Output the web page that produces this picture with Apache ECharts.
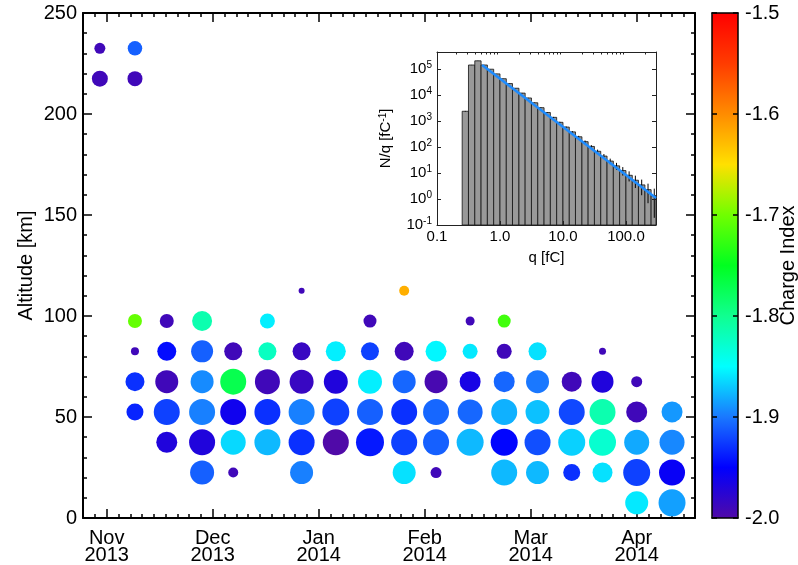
<!DOCTYPE html>
<html><head><meta charset="utf-8">
<script src="https://cdn.jsdelivr.net/npm/echarts@6/dist/echarts.min.js"></script>
<style>html,body{margin:0;padding:0;background:#fff}#c{width:798px;height:565px}</style>
</head><body><div id="c"></div>
<script>
// ---------------- data ----------------
const monthLabels = ['Nov\n2013','Dec\n2013','Jan\n2014','Feb\n2014','Mar\n2014','Apr\n2014'];
const colDates = ['2013-10-30','2013-11-09','2013-11-18','2013-11-28','2013-12-07','2013-12-17',
  '2013-12-27','2014-01-06','2014-01-16','2014-01-26','2014-02-04','2014-02-13',
  '2014-02-22','2014-03-03','2014-03-13','2014-03-22','2014-04-01','2014-04-11'];
// one entry per bubble
const bubbleCol = [0,0, 1,1,1,1,1,1, 2,2,2,2,2, 3,3,3,3,3,3, 4,4,4,4,4, 5,5,5,5,5,
  6,6,6,6,6,6, 7,7,7,7, 8,8,8,8,8, 9,9,9,9,9,9, 10,10,10,10,10, 11,11,11,11,11,
  12,12,12,12,12,12, 13,13,13,13,13, 14,14,14,14, 15,15,15,15,15, 16,16,16,16,16, 17,17,17,17];
const bubbleAlt = [232.5,217.5, 232.5,217.5,97.5,82.5,67.5,52.5, 97.5,82.5,67.5,52.5,37.5,
  97.5,82.5,67.5,52.5,37.5,22.5, 82.5,67.5,52.5,37.5,22.5, 97.5,82.5,67.5,52.5,37.5,
  112.5,82.5,67.5,52.5,37.5,22.5, 82.5,67.5,52.5,37.5, 97.5,82.5,67.5,52.5,37.5,
  112.5,82.5,67.5,52.5,37.5,22.5, 82.5,67.5,52.5,37.5,22.5, 97.5,82.5,67.5,52.5,37.5,
  97.5,82.5,67.5,52.5,37.5,22.5, 82.5,67.5,52.5,37.5,22.5, 67.5,52.5,37.5,22.5,
  82.5,67.5,52.5,37.5,22.5, 67.5,52.5,37.5,22.5,7.5, 52.5,37.5,22.5,7.5];
const bubbleIndex = [-1.99,-1.99, -1.91,-1.99,-1.705,-1.99,-1.93,-1.935, -1.99,-1.945,-1.99,-1.923,-1.97,
  -1.814,-1.91,-1.893,-1.897,-1.97,-1.91, -1.99,-1.771,-1.96,-1.864,-1.99, -1.856,-1.822,-1.99,-1.93,-1.876,
  -1.99,-1.985,-1.985,-1.897,-1.93,-1.897, -1.856,-1.97,-1.923,-2.0, -1.99,-1.923,-1.856,-1.91,-1.94,
  -1.621,-1.99,-1.907,-1.93,-1.923,-1.861, -1.853,-1.995,-1.907,-1.91,-1.99, -1.99,-1.858,-1.965,-1.907,-1.876,
  -1.721,-1.99,-1.907,-1.879,-1.948,-1.876, -1.861,-1.90,-1.873,-1.917,-1.876, -1.99,-1.92,-1.867,-1.93,
  -1.99,-1.97,-1.814,-1.829,-1.861, -1.99,-1.99,-1.882,-1.923,-1.858, -1.888,-1.894,-1.955,-1.885];
const bubbleSize = [11,16, 14.5,15,14,8,19,17, 14,19,23,26,21, 20,22,23,26,26,24, 18,26,26,25,10, 15,18,25,26,26,
  6,18,24,26,26,23, 20,24,27,26, 13,18,24,26,28, 10,19,23,26,26,23, 21,23,26,26,11, 9,15,21,25,27,
  13,15,21,26,27,26, 18,23,24,26,23, 20,26,27,17, 7,22,26,27,20, 11,21,25,27,23, 21,25,26,27];

// inset histogram
const binEdges = [0.251,0.316,0.398,0.501,0.631,0.794,1.0,1.26,1.58,2.0,2.51,3.16,3.98,5.01,6.31,7.94,
  10,12.6,15.8,20,25.1,31.6,39.8,50.1,63.1,79.4,100,126,158,200,251,316];
const binValues = [2.4e3,1.45e5,2.1e5,1.45e5,1.0e5,6.6e4,4.3e4,2.8e4,1.85e4,1.2e4,7.8e3,5.1e3,3.3e3,2.15e3,
  1.4e3,900,590,385,250,162,106,69,45,29,19,12.5,8.2,5.3,3.5,2.3,1.35];
const binRelErr = [0.03,0.01,0.01,0.01,0.01,0.01,0.01,0.01,0.01,0.02,0.02,0.02,0.03,0.03,0.04,0.05,0.06,0.07,
  0.09,0.11,0.13,0.16,0.2,0.24,0.3,0.36,0.42,0.5,0.6,0.7,0.86];
const fitStart = [0.52, 1.45e5];
const fitEnd = [300, 1.1];

// ---------------- helpers ----------------
function monthPos(s){
  const p = s.split('-').map(Number);
  const mi = (p[0]-2013)*12 + (p[1]-11);
  const dim = new Date(p[0], p[1], 0).getDate();
  return mi + (p[2]-1)/dim;
}
const colX = colDates.map(monthPos);
const bubbles = bubbleCol.map((c,i)=>[colX[c], bubbleAlt[i], bubbleIndex[i], bubbleSize[i]]);
const bars = binValues.map((v,i)=>[binEdges[i], binEdges[i+1], v, binRelErr[i]]);

const FONT = 'Liberation Sans, Arial, Helvetica, sans-serif';
const FS = 20;
const xMin = -0.2236, xMax = 5.55;
const majorX = [0,1,2,3,4,5];
const minorX = [];
for (let k=-3;k<=60;k++){ const v=k/9; if (v>xMin && v<xMax && k%9!==0) minorX.push(v); }
const insetMinor = [];
[0.1,1,10,100].forEach(d=>{ for(let m=2;m<=9;m++){ const v=m*d; if (v<300) insetMinor.push(v);} });

const black = '#000';
function mainX(pos, custom, len, showLine, showLabel){
  return {type:'value', gridIndex:0, position:pos, min:xMin, max:xMax,
    axisLine:{show:showLine, onZero:false, lineStyle:{color:black, width:2}},
    axisTick:{show:true, inside:true, length:len, customValues:custom, lineStyle:{color:black, width:1.5}},
    axisLabel:{show:showLabel, customValues:majorX, formatter:v=>monthLabels[Math.round(v)]||'',
      fontFamily:FONT, fontSize:FS, color:black, lineHeight:17, margin:12},
    splitLine:{show:false}};
}
function mainY(pos, showLabel){
  return {type:'value', gridIndex:0, position:pos, min:0, max:250, interval:50,
    axisLine:{show:true, onZero:false, lineStyle:{color:black, width:2}},
    axisTick:{show:true, inside:true, length:9, lineStyle:{color:black, width:1.5}},
    minorTick:{show:true, splitNumber:5, length:4, lineStyle:{color:black, width:1.5}},
    axisLabel:{show:showLabel, fontFamily:FONT, fontSize:FS, color:black, margin:6},
    splitLine:{show:false},
    name: showLabel ? 'Altitude [km]' : '', nameLocation:'middle', nameGap:47, nameRotate:90,
    nameMoveOverlap:false,
    nameTextStyle:{fontFamily:FONT, fontSize:FS, color:black}};
}
const supRich = {b:{fontFamily:FONT, fontSize:15, color:black, lineHeight:18},
  s:{fontFamily:FONT, fontSize:10, color:black, verticalAlign:'top', lineHeight:10}};

const option = {
  animation:false,
  backgroundColor:'#fff',
  grid:[
    {left:83, top:13, width:612, height:505, containLabel:false, outerBoundsMode:'none'},
    {left:437, top:52, width:219, height:173, show:true, backgroundColor:'#fff', borderWidth:0, z:5, outerBoundsMode:'none'},
    {left:712, top:13, width:26, height:505, outerBoundsMode:'none'}
  ],
  xAxis:[
    mainX('bottom', majorX, 9, true, true),
    mainX('bottom', minorX, 4, false, false),
    mainX('top', majorX, 9, true, false),
    mainX('top', minorX, 4, false, false),
    {type:'log', gridIndex:1, position:'bottom', min:0.1, max:300, logBase:10, z:6,
      axisLine:{show:true, onZero:false, lineStyle:{color:'#222', width:1}},
      axisTick:{show:true, inside:true, length:4, lineStyle:{color:'#222'}},
      axisLabel:{fontFamily:FONT, fontSize:15, color:black, margin:4, showMaxLabel:false,
        formatter:v=>v.toFixed(1)},
      splitLine:{show:false},
      name:'q [fC]', nameLocation:'middle', nameGap:25, nameMoveOverlap:false,
      nameTextStyle:{fontFamily:FONT, fontSize:15, color:black}},
    {type:'log', gridIndex:1, position:'top', min:0.1, max:300, logBase:10, z:6,
      axisLine:{show:true, onZero:false, lineStyle:{color:'#222', width:1}},
      axisTick:{show:true, inside:true, length:2.5, customValues:insetMinor, lineStyle:{color:'#222'}},
      axisLabel:{show:false}, splitLine:{show:false}},
    {type:'value', gridIndex:2, position:'bottom', min:0, max:1, z:10,
      axisLine:{show:true, onZero:false, lineStyle:{color:black, width:1.5}},
      axisTick:{show:false}, axisLabel:{show:false}, splitLine:{show:false}},
    {type:'value', gridIndex:2, position:'top', min:0, max:1, z:10,
      axisLine:{show:true, onZero:false, lineStyle:{color:black, width:1.5}},
      axisTick:{show:false}, axisLabel:{show:false}, splitLine:{show:false}}
  ],
  yAxis:[
    mainY('left', true),
    mainY('right', false),
    {type:'log', gridIndex:1, position:'left', min:0.1, max:4.6e5, logBase:10, z:6,
      axisLine:{show:true, onZero:false, lineStyle:{color:'#222', width:1}},
      axisTick:{show:true, inside:true, length:4, lineStyle:{color:'#222'}},
      axisLabel:{fontFamily:FONT, color:black, margin:5, showMaxLabel:false, rich:supRich,
        formatter:v=>'{b|10}{s|'+Math.round(Math.log10(v))+'}'},
      splitLine:{show:false},
      name:'N/q [fC{s|-1}]', nameLocation:'middle', nameGap:44, nameRotate:90, nameMoveOverlap:false,
      nameTextStyle:{fontFamily:FONT, fontSize:15, color:black,
        rich:{s:{fontFamily:FONT, fontSize:10, color:black, verticalAlign:'top', lineHeight:10}}}},
    {type:'log', gridIndex:1, position:'right', min:0.1, max:4.6e5, logBase:10, z:6,
      axisLine:{show:true, onZero:false, lineStyle:{color:'#222', width:1}},
      axisTick:{show:true, inside:true, length:4, lineStyle:{color:'#222'}},
      axisLabel:{show:false}, splitLine:{show:false}},
    {type:'value', gridIndex:2, position:'right', min:-2.0, max:-1.5, interval:0.1, z:10,
      axisLine:{show:true, onZero:false, lineStyle:{color:black, width:1.5}},
      axisTick:{show:true, inside:true, length:5, lineStyle:{color:black, width:1.5}},
      axisLabel:{fontFamily:FONT, fontSize:FS, color:black, margin:7, formatter:v=>v.toFixed(1)},
      splitLine:{show:false},
      name:'Charge Index', nameLocation:'middle', nameGap:40, nameRotate:90, nameMoveOverlap:false,
      nameTextStyle:{fontFamily:FONT, fontSize:FS, color:black}},
    {type:'value', gridIndex:2, position:'left', min:-2.0, max:-1.5, interval:0.1, z:10,
      axisLine:{show:true, onZero:false, lineStyle:{color:black, width:1.5}},
      axisTick:{show:true, inside:true, length:5, lineStyle:{color:black, width:1.5}},
      axisLabel:{show:false}, splitLine:{show:false}}
  ],
  visualMap:[{
    type:'continuous', min:-2.0, max:-1.5, dimension:2, seriesIndex:0,
    left:712, top:13, itemWidth:26, itemHeight:505, padding:0, align:'left',
    calculable:false, realtime:false, hoverLink:false, text:null, z:1,
    inRange:{color:['#500aa8','#0000ff','#1a78ff','#00ffff','#10ff90','#00ff20','#70ff00','#ffe000','#ff8c00','#ff3c00','#ff0000']}
  }],
  series:[
    {type:'scatter', xAxisIndex:0, yAxisIndex:0, data:bubbles,
      symbolSize:d=>d[3], itemStyle:{opacity:1}, emphasis:{disabled:true}, z:2},
    {type:'custom', xAxisIndex:4, yAxisIndex:2, data:bars, z:6,
      encode:{x:[0,1], y:2},
      renderItem:(params, api)=>{
        const lo=api.value(0), hi=api.value(1), v=api.value(2), r=api.value(3);
        const cs=params.coordSys;
        const p0=api.coord([lo, v]), p1=api.coord([hi, 0.1]);
        const xr=Math.min(p1[0], cs.x+cs.width);
        const c=Math.sqrt(lo*hi);
        const top=api.coord([c, v*(1+r)]);
        const bot=api.coord([c, Math.max(v*(1-r), 0.1)]);
        return {type:'group', children:[
          {type:'rect', shape:{x:p0[0], y:p0[1], width:xr-p0[0], height:p1[1]-p0[1]},
            style:{fill:'#999999', stroke:'#111', lineWidth:0.8}},
          {type:'line', shape:{x1:top[0], y1:top[1], x2:bot[0], y2:bot[1]},
            style:{stroke:'#000', lineWidth:1}}
        ]};
      }},
    {type:'line', xAxisIndex:4, yAxisIndex:2, data:[fitStart, fitEnd], z:7,
      showSymbol:false, symbol:'none', lineStyle:{color:'#1e8cff', width:2.5}, emphasis:{disabled:true}}
  ]
};
const chart = echarts.init(document.getElementById('c'), null, {renderer:'canvas'});
chart.setOption(option);
</script></body></html>
